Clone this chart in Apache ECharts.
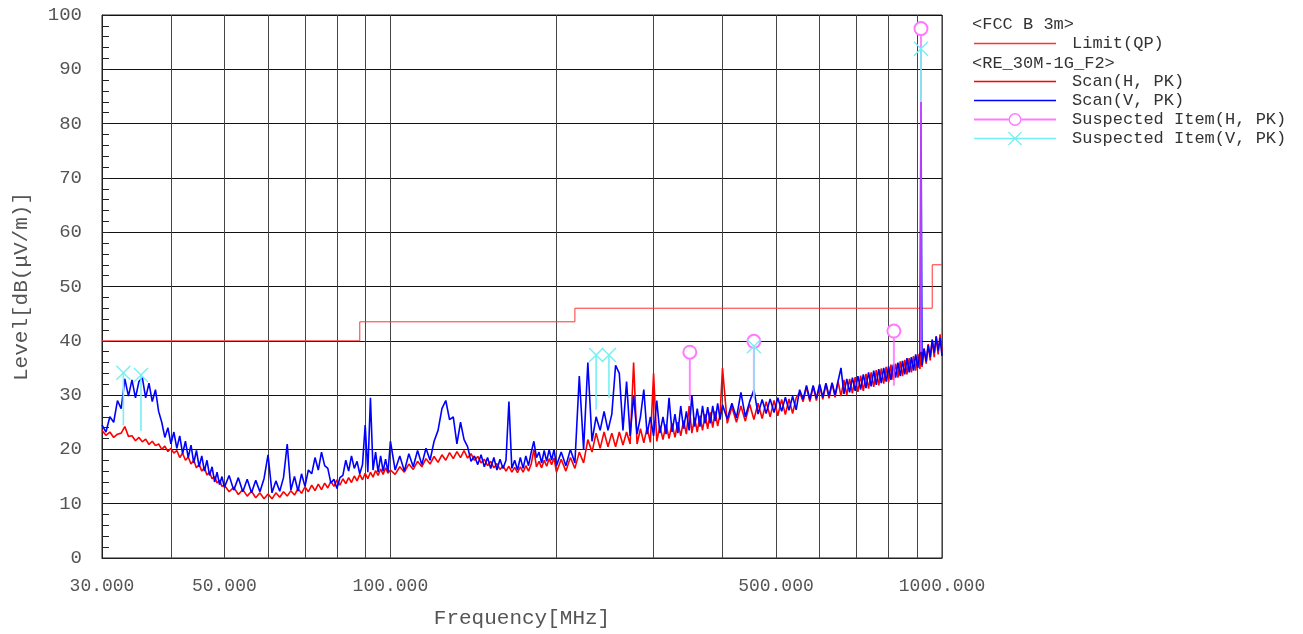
<!DOCTYPE html>
<html>
<head>
<meta charset="utf-8">
<script src="https://cdn.jsdelivr.net/npm/echarts@6/dist/echarts.min.js"></script>
<style>
  html, body { margin: 0; padding: 0; background: #fff; }
  #chart { width: 1303px; height: 634px; }
</style>
</head>
<body>
<div id="chart"></div>
<script>
// Scan frequencies (MHz), shared by both polarisations
const scanFreq = [
  30,30.5,31,31.5,32,32.5,33,33.5,34,34.5,35,35.5,36,36.5,37,37.5,38,38.5,39,39.5,
  40,40.5,41,41.5,42,42.5,43,43.5,44,44.5,45,45.5,46,46.5,47,47.5,48,48.5,49,49.5,
  50,51,52,53,54,55,56,57,58,59,60,61,62,63,64,65,66,67,68,69,
  70,71,72,73,74,75,76,77,78,79,80,81,82,83,84,85,86,87,88,89,
  90,91,92,93,94,95,96,97,98,99,
  100,102,104,106,108,110,112,114,116,118,120,122,124,126,128,130,132,134,136,138,
  140,142,144,146,148,150,152,154,156,158,160,162,164,166,168,170,172,174,176,178,
  180,182,184,186,188,190,192,194,196,198,
  200,204,208,212,216,220,224,228,232,236,240,244,248,252,256,260,264,268,272,276,
  280,284,288,292,296,300,304,308,312,316,320,324,328,332,336,340,344,348,352,356,
  360,364,368,372,376,380,384,388,392,396,
  400,408,416,424,432,440,448,456,464,472,480,488,496,504,512,520,528,536,544,552,
  560,568,576,584,592,600,608,616,624,632,640,648,656,664,672,680,688,696,704,712,
  720,728,736,744,752,760,768,776,784,792,800,808,816,824,832,840,848,856,864,872,
  880,888,896,904,912,916,920,928,936,944,952,960,968,976,984,992,1000
];

// Scan(H, PK) levels, dB(uV/m)
const scanH = [
  23.5,22.6,23.2,22.2,22.8,23.0,24.2,22.4,22.5,21.6, 22.2,21.4,21.9,20.9,21.5,20.7,21.0,20.0,20.6,19.6,
  20.2,19.3,19.8,18.5,19.3,18.0,18.6,17.3,18.0,16.6, 17.2,16.0,16.6,15.3,15.8,14.6,15.0,13.8,14.3,13.2,
  13.4,12.2,13.0,11.7,12.6,11.4,12.3,11.1,12.0,10.9, 11.8,10.9,12.0,11.2,12.2,11.4,12.4,11.6,12.8,11.9,
  13.1,12.2,13.4,12.4,13.6,12.6,13.8,12.9,14.1,13.2, 14.4,13.4,14.6,13.7,14.8,13.9,15.1,14.2,15.4,14.4,
  15.6,14.6,15.8,14.9,16.1,15.2,16.4,15.4,16.6,15.6,
  16.2,15.4,16.8,15.8,17.3,16.3,17.8,16.8,18.3,17.3, 18.7,17.6,19.0,18.0,19.4,18.3,19.6,18.5,19.8,18.4,
  19.2,18.0,18.7,17.5,18.2,17.0,17.8,16.6,17.4,16.3, 17.0,16.0,16.9,15.8,16.7,15.7,16.8,15.8,17.0,16.0,
  17.3,20.0,16.8,17.8,16.6,18.0,16.9,18.3,17.2,18.4,
  15.8,18.2,16.0,18.5,16.5,19.5,17.5,21.8,19.5,23.0, 20.2,23.2,20.5,23.0,20.5,23.2,20.8,23.2,21.0,36.0,
  21.0,23.8,21.2,24.0,21.3,34.0,21.5,24.3,21.8,24.6, 22.0,24.8,22.2,25.0,22.5,25.3,22.8,28.0,23.0,25.8,
  23.2,26.2,23.5,26.5,23.8,26.8,24.0,27.0,24.3,26.5,
  35.0,24.8,27.8,25.0,28.0,25.2,28.3,25.5,28.5,25.7, 28.8,26.0,29.0,26.2,29.2,26.4,29.3,26.6,29.5,30.5,
  28.8,31.5,28.8,31.6,29.0,31.8,29.2,32.0,29.4,32.2, 29.6,32.5,29.8,32.8,30.0,33.0,30.3,33.3,30.6,33.6,
  30.8,33.9,31.2,34.2,31.5,34.6,31.8,34.9,32.1,35.2, 32.4,35.6,32.8,35.8,33.2,36.2,33.5,36.5,33.8,36.8,
  34.2,37.2,34.5,37.6,34.8,38.0,35.2,38.6,35.8,39.4, 36.4,40.2,37.0,40.8,37.5,41.2,38.2
];

// Scan(V, PK) levels, dB(uV/m)
const scanV = [
  24.5,23.2,26.0,25.0,29.0,27.5,33.0,29.8,32.8,29.5, 32.5,33.2,29.5,32.2,28.8,31.0,27.0,25.0,22.2,24.0,
  21.0,23.2,20.2,22.5,19.2,21.5,18.5,20.8,17.5,19.8, 16.8,18.8,16.0,18.0,15.2,16.8,14.0,15.8,13.5,15.0,
  13.0,15.2,12.5,14.8,12.2,14.5,12.0,14.3,12.2,14.6, 19.0,12.0,14.2,12.3,14.8,21.0,12.5,15.0,12.3,15.5,
  13.2,16.2,15.5,18.5,16.2,19.5,17.0,16.5,13.8,14.5, 12.8,14.8,15.2,18.0,16.0,18.8,16.5,17.8,15.5,17.2,
  24.5,15.8,29.5,16.2,19.5,15.8,18.8,16.0,18.2,15.8,
  21.5,16.2,18.8,16.0,19.2,16.8,19.8,17.2,20.2,18.0, 21.5,23.5,27.5,29.0,25.5,26.0,21.0,25.0,21.8,20.5,
  17.8,18.8,17.2,19.0,16.8,18.5,16.5,18.5,16.2,18.2, 16.5,18.0,28.8,16.5,18.0,16.2,18.5,16.5,18.8,17.0,
  19.5,21.5,18.5,19.5,17.5,19.8,17.8,20.0,18.0,20.0,
  17.0,19.5,17.0,20.0,17.5,33.5,20.0,36.0,21.5,26.0, 23.5,27.0,23.5,26.5,35.5,34.0,23.5,32.5,22.5,30.0,
  22.8,26.0,31.0,22.8,26.0,22.5,29.0,23.0,26.0,22.8, 29.5,23.2,26.5,23.0,28.0,23.8,27.0,23.5,30.0,24.2,
  27.5,24.2,28.0,24.8,27.8,24.8,28.0,25.2,28.5,25.5,
  28.2,25.6,28.5,25.8,30.5,26.0,28.8,31.0,26.5,29.2, 26.6,29.3,26.8,29.5,27.0,29.6,27.2,29.8,27.3,31.0,
  29.2,31.8,29.2,31.8,29.4,32.0,29.6,32.2,29.8,32.3, 30.0,32.6,35.0,30.2,33.0,30.5,33.2,30.8,33.5,31.0,
  33.8,31.3,34.2,31.6,34.5,31.9,34.8,32.2,35.0,32.5, 35.3,32.8,35.6,33.2,36.0,33.5,36.3,33.8,36.8,34.2,
  37.0,34.5,37.5,35.0,37.8,84.0,35.5,38.5,36.2,39.2, 37.0,40.2,37.8,40.8,38.2,40.5,37.2
];

// FCC class B, 3 m quasi-peak limit: level from each break frequency on
const limitFreq = [30, 88, 216, 960, 1000];
const limitLevel = [40, 43.5, 46, 54, 54];

// Suspected items: frequency, peak level, level where the stem starts
const suspHFreq = [349, 456, 818, 916];
const suspHLevel = [37.9, 39.9, 41.8, 97.5];
const suspHBase = [29.0, 29.5, 31.7, 38.0];

const suspVFreq = [32.8, 35.3, 236, 249, 456, 916];
const suspVLevel = [34.1, 33.7, 37.4, 37.4, 39.0, 93.8];
const suspVBase = [24.4, 23.4, 27.3, 29.5, 29.5, 84.0];

// Axis ticks
const freqGridTicks = [30, 40, 50, 60, 70, 80, 90, 100, 200, 300, 400, 500, 600, 700, 800, 900, 1000];
const freqLabelTicks = [30, 50, 100, 500, 1000];

const MONO = "'Liberation Mono', 'DejaVu Sans Mono', monospace";
const RED = '#ff0000', BLUE = '#0000ff', LIMIT = '#ff3333', PINK = '#ff7aff', CYAN = '#74f0f4';

// Legend glyphs, drawn in an 82 x 14 box
const ICON_LINE = 'path://M0,0H82V1.3H0Z';
const ICON_CIRCLE = 'path://M0,6H34.5V8H0Z M47.5,6H82V8H47.5Z ' +
  'M47.5,7A6.5,6.5,0,1,1,34.5,7A6.5,6.5,0,1,1,47.5,7Z M46.1,7A5.1,5.1,0,1,0,35.9,7A5.1,5.1,0,1,0,46.1,7Z';
const ICON_CROSS = 'path://M0,6.3H82V7.7H0Z M34,0.9L34.9,0L48,13.1L47.1,14Z M47.1,0L48,0.9L34.9,14L34,13.1Z';

function pairs(xs, ys) {
  const n = Math.min(xs.length, ys.length);
  const out = [];
  for (let i = 0; i < n; i++) out.push([xs[i], ys[i]]);
  return out;
}

// Each suspected item becomes a vertical stem with a marker at its top
function stems(freqs, peaks, bases) {
  const out = [];
  for (let i = 0; i < freqs.length; i++) {
    out.push({ value: [freqs[i], bases[i]], symbol: 'none' });
    out.push({ value: [freqs[i], peaks[i]] });
    out.push({ value: [freqs[i], '-'], symbol: 'none' });
  }
  return out;
}

const legendText = { fontFamily: MONO, fontSize: 17, color: '#333', lineHeight: 19, padding: [0, 0, 0, 11] };

const chart = echarts.init(document.getElementById('chart'), null, { renderer: 'canvas' });

chart.setOption({
  animation: false,
  backgroundColor: '#fff',
  grid: {
    left: 102, right: 361, top: 15, bottom: 72,
    show: true, borderColor: '#222', borderWidth: 1, backgroundColor: 'transparent'
  },
  legend: [
    {
      data: [{ name: 'Limit(QP)', icon: ICON_LINE, itemStyle: { color: LIMIT, borderWidth: 0 } }],
      orient: 'vertical', left: 969, top: 29,
      itemWidth: 82, itemHeight: 14, itemGap: 0,
      selectedMode: false, textStyle: legendText
    },
    {
      data: [
        { name: 'Scan(H, PK)', icon: ICON_LINE, itemStyle: { color: RED, borderWidth: 0 } },
        { name: 'Scan(V, PK)', icon: ICON_LINE, itemStyle: { color: BLUE, borderWidth: 0 } },
        { name: 'Suspected Item(H, PK)', icon: ICON_CIRCLE, itemStyle: { color: PINK, borderWidth: 0 } },
        { name: 'Suspected Item(V, PK)', icon: ICON_CROSS, itemStyle: { color: CYAN, borderWidth: 0 } }
      ],
      orient: 'vertical', left: 969, top: 67,
      itemWidth: 82, itemHeight: 14, itemGap: 0,
      selectedMode: false, textStyle: legendText
    }
  ],
  graphic: [
    { type: 'text', left: 972, top: 16, style: { text: '<FCC B 3m>', font: '17px ' + MONO, fill: '#333' } },
    { type: 'text', left: 972, top: 55, style: { text: '<RE_30M-1G_F2>', font: '17px ' + MONO, fill: '#333' } }
  ],
  xAxis: {
    type: 'log', logBase: 10, min: 30, max: 1000,
    name: 'Frequency[MHz]', nameLocation: 'middle', nameGap: 50,
    nameTextStyle: { fontFamily: MONO, fontSize: 21, color: '#555' },
    axisLine: { show: true, lineStyle: { color: '#222', width: 1 } },
    axisTick: { show: false, customValues: freqGridTicks },
    axisLabel: {
      customValues: freqLabelTicks, margin: 19,
      fontFamily: MONO, fontSize: 18, color: '#555',
      formatter: v => Number(v).toFixed(3)
    },
    splitLine: { show: true, lineStyle: { color: '#444', width: 1 } },
    minorTick: { show: false }, minorSplitLine: { show: false }
  },
  yAxis: {
    type: 'value', min: 0, max: 100, interval: 10,
    name: 'Level[dB(μV/m)]', nameLocation: 'middle', nameGap: 70, nameRotate: 90,
    nameTextStyle: { fontFamily: MONO, fontSize: 21, color: '#555' },
    axisLine: { show: true, lineStyle: { color: '#222', width: 1 } },
    axisTick: { show: true, inside: true, length: 7, lineStyle: { color: '#222' } },
    minorTick: { show: true, splitNumber: 5, length: 7, lineStyle: { color: '#222', width: 1 } },
    axisLabel: { margin: 20, fontFamily: MONO, fontSize: 19, color: '#555' },
    splitLine: { show: true, lineStyle: { color: '#111', width: 1 } }
  },
  series: [
    {
      name: 'Limit(QP)', type: 'line', step: 'end',
      data: pairs(limitFreq, limitLevel),
      symbol: 'none', color: LIMIT,
      lineStyle: { color: LIMIT, width: 1 }, z: 2
    },
    {
      name: 'Scan(H, PK)', type: 'line',
      data: pairs(scanFreq, scanH),
      symbol: 'none', sampling: 'none', color: RED,
      lineStyle: { color: RED, width: 1.6 }, z: 3
    },
    {
      name: 'Scan(V, PK)', type: 'line',
      data: pairs(scanFreq, scanV),
      symbol: 'none', sampling: 'none', color: BLUE,
      lineStyle: { color: BLUE, width: 1.6 }, z: 4
    },
    {
      name: 'Suspected Item(H, PK)', type: 'line',
      data: stems(suspHFreq, suspHLevel, suspHBase),
      connectNulls: false,
      symbol: 'emptyCircle', symbolSize: 13, color: PINK,
      itemStyle: { color: PINK, borderColor: PINK, borderWidth: 1.4 },
      lineStyle: { color: '#ff55ff', width: 2, opacity: 0.7 }, z: 5
    },
    {
      name: 'Suspected Item(V, PK)', type: 'line',
      data: stems(suspVFreq, suspVLevel, suspVBase),
      connectNulls: false,
      symbol: 'path://M0,0L10,10M10,0L0,10', symbolSize: 14, color: CYAN,
      itemStyle: { color: CYAN, borderColor: CYAN, borderWidth: 1.4 },
      lineStyle: { color: CYAN, width: 1.6 }, z: 6
    }
  ]
});
</script>
</body>
</html>
